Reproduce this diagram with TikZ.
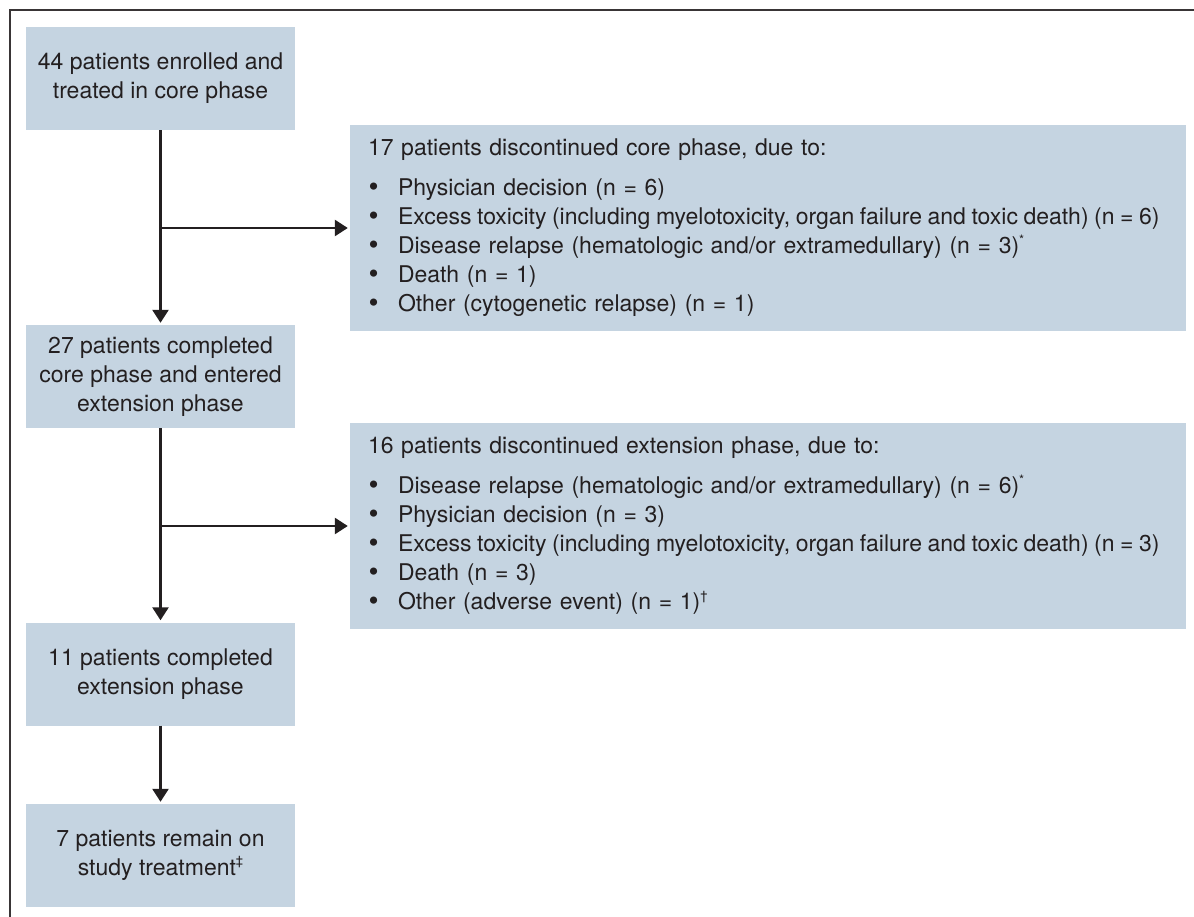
\documentclass[tikz,border=0pt]{standalone}
\usepackage{fontspec}
\setmainfont{TeX Gyre Heros}
\usetikzlibrary{arrows.meta}
\definecolor{boxfill}{RGB}{197,212,225}
\definecolor{ink}{RGB}{35,31,32}
\newcommand{\fnmark}[1]{\raisebox{0.8ex}{\fontsize{13}{13}\selectfont #1}}
\newcommand{\bulitem}[1]{\mbox{\makebox[30pt][l]{\hspace{0.5pt}\raisebox{-0.5pt}{\scalebox{1.25}{\textbullet}}}#1}}
\begin{document}
\begin{tikzpicture}[x=1pt,y=-1pt,
  font=\fontsize{23}{29}\selectfont,
  leftbox/.style={fill=boxfill, minimum width=269pt, minimum height=103pt, align=center, inner sep=0pt, text=ink},
  rightbox/.style={fill=boxfill, minimum width=836pt, minimum height=206pt, text width=800pt, inner xsep=18pt, inner ysep=0pt, align=left, text=ink},
  conn/.style={draw=ink, line width=2.6pt, -{Triangle[length=13pt,width=16pt]}, shorten >=2pt},
  frameline/.style={draw=ink!90, line width=2.6pt}]
\useasboundingbox (0,0) rectangle (1194,917);
\coordinate (fa) at (10,917);
\coordinate (fb) at (10,10);
\coordinate (fc) at (1194,10);
\draw[frameline] (fa) -- (fb) -- (fc);

\node[leftbox] (b1) at (160.5,78.5) {44 patients enrolled and\\treated in core phase};
\node[leftbox] (b3) at (160.5,376.5) {27 patients completed\\core phase and entered\\extension phase};
\node[leftbox] (b5) at (160.5,674) {11 patients completed\\extension phase};
\node[leftbox] (b6) at (160.5,855.5) {7 patients remain on\\study treatment\fnmark{‡}};

\node[rightbox] (b2) at (768,228) {17 patients discontinued core phase, due to:\\[11pt]
\bulitem{Physician decision (n = 6)}\\
\bulitem{\spaceskip=0.24em Excess toxicity (including myelotoxicity, organ failure and toxic death) (n = 6)}\\
\bulitem{Disease relapse (hematologic and/or extramedullary) (n = 3)\fnmark{*}}\\
\bulitem{Death (n = 1)}\\
\bulitem{Other (cytogenetic relapse) (n = 1)}};

\node[rightbox] (b4) at (768,526) {16 patients discontinued extension phase, due to:\\[11pt]
\bulitem{Disease relapse (hematologic and/or extramedullary) (n = 6)\fnmark{*}}\\
\bulitem{Physician decision (n = 3)}\\
\bulitem{\spaceskip=0.24em Excess toxicity (including myelotoxicity, organ failure and toxic death) (n = 3)}\\
\bulitem{Death (n = 3)}\\
\bulitem{Other (adverse event) (n = 1)\fnmark{†}}};

\coordinate (j1) at (b1.south |- b2.west);
\coordinate (j2) at (b3.south |- b4.west);
\draw[conn] (b1.south) -- (b3.north);
\draw[conn] (j1) -- (b2.west);
\draw[conn] (b3.south) -- (b5.north);
\draw[conn] (j2) -- (b4.west);
\draw[conn] (b5.south) -- (b6.north);
\end{tikzpicture}
\end{document}
